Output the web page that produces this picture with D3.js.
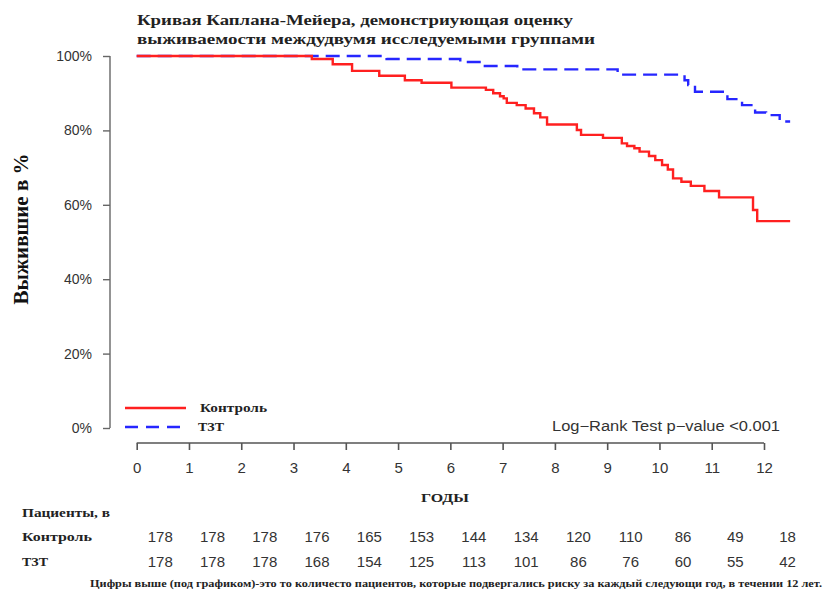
<!DOCTYPE html>
<html>
<head>
<meta charset="utf-8">
<script src="https://cdn.jsdelivr.net/npm/d3@7"></script>
<style>
  body { margin: 0; background: #fff; }
  .serif { font-family: "Liberation Serif", "Times New Roman", serif; }
  .sans { font-family: "Liberation Sans", Arial, sans-serif; }
</style>
</head>
<body>
<script>
// Kaplan-Meier step data: time of each drop (years) and survival after it (%)
let ctrlTimes = [0, 3.35, 3.75, 4.12, 4.64, 5.13, 5.45, 6.02, 6.68, 6.82, 6.95, 7.02, 7.08, 7.27, 7.44, 7.6, 7.72, 7.85,
  8.42, 8.5, 8.92, 9.28, 9.38, 9.52, 9.62, 9.8, 9.92, 10.05, 10.16, 10.26, 10.42, 10.6, 10.86, 11.14, 11.79, 11.87, 12.5];
let ctrlSurv = [100, 99.2, 97.8, 96.0, 94.7, 93.5, 92.8, 91.5, 90.9, 90.0, 89.2, 88.6, 87.4, 86.8, 85.9, 84.6, 83.5, 81.6,
  80.1, 78.8, 78.0, 76.5, 75.8, 75.2, 74.3, 73.1, 72.0, 70.7, 69.5, 67.1, 66.2, 65.1, 63.7, 62.0, 58.6, 55.6, 55.6];

let tztTimes = [0, 4.78, 6.19, 6.6, 7.28, 9.2, 10.48, 10.55, 10.68, 11.3, 11.58, 11.83, 12.04, 12.3, 12.5];
let tztSurv = [100, 99.2, 98.4, 97.3, 96.4, 95.0, 93.5, 92.2, 90.4, 88.4, 86.8, 84.8, 84.1, 82.4, 82.4];

let years = [0, 1, 2, 3, 4, 5, 6, 7, 8, 9, 10, 11, 12];
let yTicks = [0, 20, 40, 60, 80, 100];
let atRiskCtrl = [178, 178, 178, 176, 165, 153, 144, 134, 120, 110, 86, 49, 18];
let atRiskTzt = [178, 178, 178, 168, 154, 125, 113, 101, 86, 76, 60, 55, 42];

let width = 825, height = 594;

let svg = d3.select("body").append("svg")
  .attr("width", width)
  .attr("height", height);

// scales
let x = d3.scaleLinear().domain([0, 12]).range([136.7, 764]);
let y = d3.scaleLinear().domain([0, 100]).range([428, 56]);

// title
svg.append("text").attr("class", "serif")
  .attr("x", 137).attr("y", 25)
  .attr("font-size", 15).attr("font-weight", "bold").attr("fill", "#222")
  .attr("textLength", 436).attr("lengthAdjust", "spacingAndGlyphs")
  .text("Кривая Каплана-Мейера, демонстриующая оценку");
svg.append("text").attr("class", "serif")
  .attr("x", 137).attr("y", 44)
  .attr("font-size", 15).attr("font-weight", "bold").attr("fill", "#222")
  .attr("textLength", 458).attr("lengthAdjust", "spacingAndGlyphs")
  .text("выживаемости междудвумя исследуемыми группами");

// y axis
let yAxis = svg.append("g")
  .attr("class", "sans")
  .attr("transform", "translate(110,0)")
  .call(d3.axisLeft(y).tickValues(yTicks).tickFormat(d => d + "%")
    .tickSize(7).tickSizeOuter(0).tickPadding(11));
yAxis.selectAll("text").attr("font-size", 14).attr("fill", "#333");
yAxis.selectAll("path, line").attr("stroke", "#666").attr("stroke-width", 1.4);
yAxis.select(".domain").attr("d", "M0," + y(0) + "V" + y(100));

// x axis
let xAxis = svg.append("g")
  .attr("class", "sans")
  .attr("transform", "translate(0,443)")
  .call(d3.axisBottom(x).tickValues(years).tickFormat(d3.format("d"))
    .tickSize(7).tickSizeOuter(0).tickPadding(12));
xAxis.selectAll("text").attr("font-size", 15).attr("fill", "#333");
xAxis.selectAll("path, line").attr("stroke", "#555").attr("stroke-width", 1.6);
xAxis.select(".domain").attr("d", "M" + x(0) + ",0H" + x(12));

// y label
svg.append("text").attr("class", "serif")
  .attr("transform", "translate(28,229) rotate(-90)")
  .attr("text-anchor", "middle")
  .attr("font-size", 21).attr("font-weight", "bold").attr("fill", "#111")
  .text("Выжившие в %");

// survival curves
let line = d3.line()
  .x(d => x(d[0]))
  .y(d => y(d[1]))
  .curve(d3.curveStepAfter);

svg.append("path")
  .datum(d3.zip(tztTimes, tztSurv))
  .attr("fill", "none")
  .attr("stroke", "#2626ff")
  .attr("stroke-width", 2.4)
  .attr("stroke-dasharray", "14,7")
  .attr("d", line);

svg.append("path")
  .datum(d3.zip(ctrlTimes, ctrlSurv))
  .attr("fill", "none")
  .attr("stroke", "#ff2020")
  .attr("stroke-width", 2.4)
  .attr("d", line);

// legend
svg.append("line")
  .attr("x1", 125).attr("x2", 186).attr("y1", 408).attr("y2", 408)
  .attr("stroke", "#ff2020").attr("stroke-width", 2.4);
svg.append("line")
  .attr("x1", 125).attr("x2", 186).attr("y1", 427).attr("y2", 427)
  .attr("stroke", "#2626ff").attr("stroke-width", 2.4)
  .attr("stroke-dasharray", "13,8");
svg.append("text").attr("class", "serif")
  .attr("x", 200).attr("y", 412)
  .attr("font-size", 13).attr("font-weight", "bold").attr("fill", "#222")
  .attr("textLength", 67).attr("lengthAdjust", "spacingAndGlyphs")
  .text("Контроль");
svg.append("text").attr("class", "serif")
  .attr("x", 198).attr("y", 431)
  .attr("font-size", 13).attr("font-weight", "bold").attr("fill", "#222")
  .attr("textLength", 26).attr("lengthAdjust", "spacingAndGlyphs")
  .text("ТЗТ");

svg.append("text").attr("class", "sans")
  .attr("x", 780).attr("y", 431)
  .attr("text-anchor", "end")
  .attr("font-size", 14).attr("fill", "#333")
  .attr("textLength", 228).attr("lengthAdjust", "spacingAndGlyphs")
  .text("Log\u2212Rank Test p\u2212value <0.001");

// x label
svg.append("text").attr("class", "serif")
  .attr("x", 445).attr("y", 502)
  .attr("text-anchor", "middle")
  .attr("font-size", 13).attr("font-weight", "bold").attr("fill", "#222")
  .attr("textLength", 48).attr("lengthAdjust", "spacingAndGlyphs")
  .text("ГОДЫ");

// number at risk table
svg.append("text").attr("class", "serif")
  .attr("x", 22).attr("y", 517)
  .attr("font-size", 13).attr("font-weight", "bold").attr("fill", "#222")
  .attr("textLength", 88).attr("lengthAdjust", "spacingAndGlyphs")
  .text("Пациенты, в");
svg.append("text").attr("class", "serif")
  .attr("x", 22).attr("y", 541)
  .attr("font-size", 13).attr("font-weight", "bold").attr("fill", "#222")
  .attr("textLength", 70).attr("lengthAdjust", "spacingAndGlyphs")
  .text("Контроль");
svg.append("text").attr("class", "serif")
  .attr("x", 22).attr("y", 566)
  .attr("font-size", 13).attr("font-weight", "bold").attr("fill", "#222")
  .attr("textLength", 26).attr("lengthAdjust", "spacingAndGlyphs")
  .text("ТЗТ");

svg.selectAll(".riskCtrl")
  .data(atRiskCtrl)
  .enter().append("text")
  .attr("class", "sans riskCtrl")
  .attr("x", (d, i) => x(years[i] + 0.45))
  .attr("y", 542)
  .attr("text-anchor", "middle")
  .attr("font-size", 15).attr("fill", "#333")
  .text(d => d);

svg.selectAll(".riskTzt")
  .data(atRiskTzt)
  .enter().append("text")
  .attr("class", "sans riskTzt")
  .attr("x", (d, i) => x(years[i] + 0.45))
  .attr("y", 567)
  .attr("text-anchor", "middle")
  .attr("font-size", 15).attr("fill", "#333")
  .text(d => d);

// footnote
svg.append("text").attr("class", "serif")
  .attr("x", 90).attr("y", 587)
  .attr("font-size", 10).attr("font-weight", "bold").attr("fill", "#222")
  .attr("textLength", 732).attr("lengthAdjust", "spacingAndGlyphs")
  .text("Цифры выше (под графиком)-это то количесто пациентов, которые подвергались риску за каждый следующи год, в течении 12 лет.");
</script>
</body>
</html>
